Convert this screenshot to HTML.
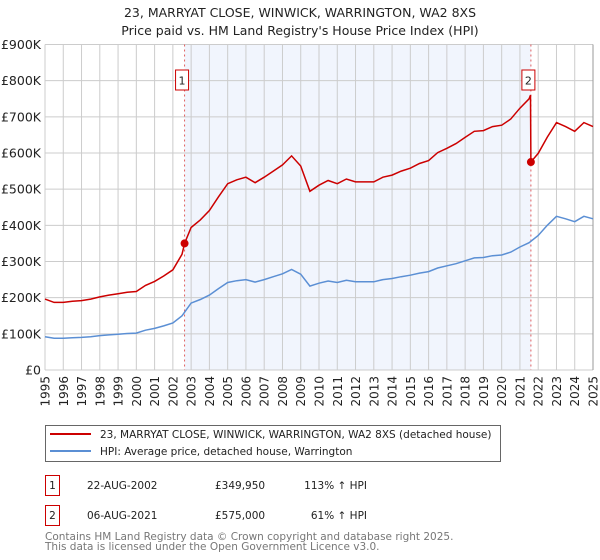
<!DOCTYPE html>
<html><head><meta charset="utf-8"><style>
body{margin:0;background:#fff;font-family:"DejaVu Sans","Liberation Sans",sans-serif;}
#wrap{position:relative;width:600px;height:560px;overflow:hidden;}
svg text{font-family:"DejaVu Sans","Liberation Sans",sans-serif;}
</style></head><body>
<div id="wrap">
<svg id="chart" width="600" height="560"></svg>
</div>
<script>
const hpiYears=[1995,1995.5,1996,1996.5,1997,1997.5,1998,1998.5,1999,1999.5,2000,2000.5,2001,2001.5,2002,2002.5,2003,2003.5,2004,2004.5,2005,2005.5,2006,2006.5,2007,2007.5,2008,2008.5,2009,2009.5,2010,2010.5,2011,2011.5,2012,2012.5,2013,2013.5,2014,2014.5,2015,2015.5,2016,2016.5,2017,2017.5,2018,2018.5,2019,2019.5,2020,2020.5,2021,2021.5,2022,2022.5,2023,2023.5,2024,2024.5,2025];
const hpiValues=[92,88,88,89,90,92,95,97,99,101,102,110,115,122,130,150,185,195,207,225,242,247,250,243,250,258,266,278,265,232,240,246,242,248,244,244,244,250,253,258,262,268,272,282,288,294,302,310,311,316,318,326,340,352,372,400,425,418,410,425,418];
const priceYears=[1995,1995.5,1996,1996.5,1997,1997.5,1998,1998.5,1999,1999.5,2000,2000.5,2001,2001.5,2002,2002.5,2002.64,2003,2003.5,2004,2004.5,2005,2005.5,2006,2006.5,2007,2007.5,2008,2008.5,2009,2009.5,2010,2010.5,2011,2011.5,2012,2012.5,2013,2013.5,2014,2014.5,2015,2015.5,2016,2016.5,2017,2017.5,2018,2018.5,2019,2019.5,2020,2020.5,2021,2021.5,2021.58,2021.6,2022,2022.5,2023,2023.5,2024,2024.5,2025];
const priceValues=[196,187,187,190,192,196,202,207,211,215,217,234,245,260,277,320,350,394,415,441,479,515,526,533,518,533,550,567,592,564,494,511,524,515,528,520,520,520,533,539,550,558,571,579,601,613,626,643,660,662,673,677,694,724,750,760,575,599,644,684,673,660,684,673];
const saleYears=[2002.64,2021.6];
const saleValues=[349.95,575];
const saleLabels=["1","2"];
const yTicks=[0,100,200,300,400,500,600,700,800,900];
const yTickLabels=["£0","£100K","£200K","£300K","£400K","£500K","£600K","£700K","£800K","£900K"];
const xTicks=[1995,1996,1997,1998,1999,2000,2001,2002,2003,2004,2005,2006,2007,2008,2009,2010,2011,2012,2013,2014,2015,2016,2017,2018,2019,2020,2021,2022,2023,2024,2025];

const NS="http://www.w3.org/2000/svg";
const svg=document.getElementById('chart');
const L=45,R=593,T=44.5,B=370;
const x=y=>L+(y-1995)/30*(R-L);
const yv=v=>B-v/900*(B-T);
function el(tag,attrs,parent){const e=document.createElementNS(NS,tag);for(const k in attrs)e.setAttribute(k,attrs[k]);(parent||svg).appendChild(e);return e;}
function txt(s,attrs){const e=el('text',attrs);e.textContent=s;return e;}

let t=txt("23, MARRYAT CLOSE, WINWICK, WARRINGTON, WA2 8XS",{x:300,y:17,'text-anchor':'middle','font-size':12.5,fill:'#222'});


t=txt("Price paid vs. HM Land Registry's House Price Index (HPI)",{x:300,y:35,'text-anchor':'middle','font-size':12.5,fill:'#222'});



let sh=el('rect',{x:x(saleYears[0]),y:T,width:x(saleYears[1])-x(saleYears[0]),height:B-T,fill:'#eef3fc',opacity:0.8});



xTicks.forEach(yr=>{
 const g=el('line',{x1:x(yr),x2:x(yr),y1:T,y2:B,stroke:'#ccc','stroke-width':1});
 
 
 const lt=txt(String(yr),{x:0,y:0,'font-size':12,fill:'#222','text-anchor':'end',transform:`translate(${x(yr)+4.5},${376}) rotate(-90)`});
 
 
});
yTicks.forEach((v,i)=>{
 const g=el('line',{x1:L,x2:R,y1:yv(v),y2:yv(v),stroke:'#ccc','stroke-width':1});
 
 
 const lt=txt(yTickLabels[i],{x:41,y:yv(v)+4.5,'font-size':12.5,fill:'#222','text-anchor':'end'});
 
 
});
let rb=el('line',{x1:R,x2:R,y1:T,y2:B,stroke:'#999','stroke-width':1});



saleYears.forEach((s,i)=>{
 const d=el('line',{x1:x(s),x2:x(s),y1:T,y2:B,stroke:'#e06060','stroke-width':1,'stroke-dasharray':'2,3'});
 
 
 const bx=el('rect',{x:x(s)-9,y:70,width:13,height:20,fill:'#fff',stroke:'#c00','stroke-width':1});
 
 
 const bt=txt(saleLabels[i],{x:x(s)-2.5,y:84.5,'font-size':11,fill:'#222','text-anchor':'middle'});
 
 
});

function path(xs,vs){return xs.map((a,i)=>(i?'L':'M')+x(a).toFixed(1)+','+yv(vs[i]).toFixed(1)).join(' ');}
let hp=el('path',{d:path(hpiYears,hpiValues),fill:'none',stroke:'#5b8fd4','stroke-width':1.5});


let pp=el('path',{d:path(priceYears,priceValues),fill:'none',stroke:'#cc0000','stroke-width':1.5});


saleYears.forEach((s,i)=>{
 const c=el('circle',{cx:x(s),cy:yv(saleValues[i]),r:4,fill:'#cc0000'});
 
 
});

// legend
let lg=el('rect',{x:45.5,y:425.5,width:455,height:36,fill:'#fff',stroke:'#666','stroke-width':1});


let l1=el('line',{x1:50,x2:91,y1:434,y2:434,stroke:'#cc0000','stroke-width':2});


t=txt("23, MARRYAT CLOSE, WINWICK, WARRINGTON, WA2 8XS (detached house)",{x:100,y:438,'font-size':10.5,fill:'#222'});


let l2=el('line',{x1:50,x2:91,y1:451,y2:451,stroke:'#5b8fd4','stroke-width':2});


t=txt("HPI: Average price, detached house, Warrington",{x:100,y:455,'font-size':10.5,fill:'#222'});



// table
const rows=[["1","22-AUG-2002","£349,950","113% ↑ HPI"],["2","06-AUG-2021","£575,000","61% ↑ HPI"]];
rows.forEach((r,i)=>{
 const yy=475+i*30;
 const b=el('rect',{x:45.5,y:yy+0.5,width:14,height:20,fill:'#fff',stroke:'#c00','stroke-width':1});
 
 
 let a=txt(r[0],{x:52.5,y:yy+14,'font-size':10.5,fill:'#222','text-anchor':'middle'});
 
 
 a=txt(r[1],{x:87,y:yy+14,'font-size':10.5,fill:'#222'});
 
 
 a=txt(r[2],{x:215,y:yy+14,'font-size':10.5,fill:'#222'});
 
 
 a=txt(r[3],{x:367,y:yy+14,'font-size':10.5,fill:'#222','text-anchor':'end'});
 
 
});
t=txt("Contains HM Land Registry data © Crown copyright and database right 2025.",{x:45,y:540,'font-size':10.5,fill:'#777'});


t=txt("This data is licensed under the Open Government Licence v3.0.",{x:45,y:550,'font-size':10.5,fill:'#777'});


</script>
</body></html>
